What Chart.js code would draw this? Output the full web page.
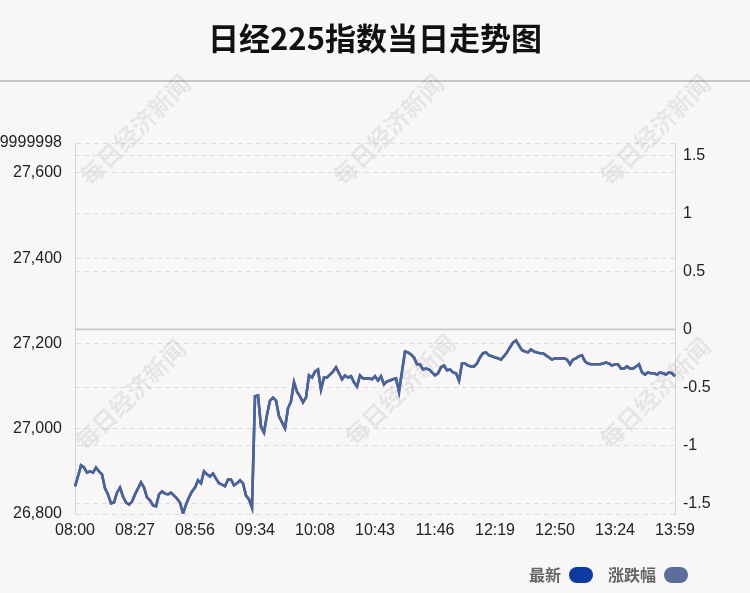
<!DOCTYPE html>
<html>
<head>
<meta charset="utf-8">
<script src="https://cdn.jsdelivr.net/npm/chart.js@4.4.1/dist/chart.umd.min.js"></script>
<style>
  html, body { margin: 0; padding: 0; background: #f9f6f8; }
  canvas { display: block; }
</style>
</head>
<body>
<canvas id="c" width="750" height="593"></canvas>
<script>
// ---- data ----
const chartTitle = '日经225指数当日走势图';
const seriesNames = ['最新', '涨跌幅'];
const prevClose = 27233;
const tickLabels = ['08:00','08:27','08:56','09:34','10:08','10:43','11:46','12:19','12:50','13:24','13:59'];
const prices = [
  26865,26888,26914,26909,26897,26900,26897,26909,26900,26893,
  26860,26846,26825,26827,26850,26862,26841,26827,26822,26829,
  26846,26860,26874,26862,26839,26832,26820,26818,26846,26853,
  26848,26846,26850,26843,26836,26827,26801,26822,26839,26853,
  26862,26879,26872,26900,26893,26888,26895,26883,26872,26869,
  26865,26881,26881,26867,26872,26879,26872,26843,26834,26815,
  27076,27078,27005,26991,27033,27066,27073,27066,27029,27015,
  27001,27048,27064,27109,27087,27076,27062,27073,27125,27120,
  27134,27139,27092,27120,27120,27127,27134,27144,27130,27116,
  27125,27120,27123,27109,27099,27125,27118,27118,27118,27116,
  27123,27113,27123,27104,27111,27113,27116,27118,27087,27134,
  27181,27179,27174,27167,27151,27151,27139,27141,27139,27132,
  27125,27130,27144,27148,27137,27139,27132,27130,27113,27153,
  27153,27148,27146,27146,27153,27167,27177,27179,27172,27170,
  27167,27165,27162,27170,27179,27191,27202,27207,27195,27184,
  27181,27179,27186,27181,27179,27177,27177,27172,27167,27162,
  27165,27165,27165,27165,27162,27151,27162,27165,27170,27172,
  27158,27153,27151,27151,27151,27151,27153,27155,27153,27148,
  27151,27151,27141,27141,27146,27141,27141,27146,27151,27132,
  27127,27132,27130,27130,27127,27132,27130,27127,27132,27130,
  27123
];
const leftMin = 26800;
const leftMax = 27670;
const leftTicks = [26800, 27000, 27200, 27400, 27600, 27670];
const leftTickLabels = ['26,800', '27,000', '27,200', '27,400', '27,600', '27,669.99999999998'];
const rightTicks = [-1.5, -1, -0.5, 0, 0.5, 1, 1.5];
const rightTickLabels = ['-1.5', '-1', '-0.5', '0', '0.5', '1', '1.5'];

// ---- derived ----
const perLabel = (prices.length - 1) / (tickLabels.length - 1);
const categories = prices.map((_, i) => (i % perLabel === 0 ? tickLabels[i / perLabel] : ''));
const changes = prices.map(v => (v - prevClose) / prevClose * 100);
const rightMin = (leftMin - prevClose) / prevClose * 100;
const rightMax = (leftMax - prevClose) / prevClose * 100;

// ---- styles ----
const BG = '#f9f6f8';
const LINE = '#4b6397';
const legendColors = ['#0c3a9f', '#5a6d9b'];
const GRID = '#e0dde0';
const tickFont = { family: '"Liberation Sans", Arial, sans-serif', size: 16 };
const LEGEND_RIGHT = 703;

const decor = {
  id: 'decor',
  beforeDraw(chart) {
    const ctx = chart.ctx;
    ctx.save();
    ctx.fillStyle = BG;
    ctx.fillRect(0, 0, chart.width, chart.height);
    ctx.strokeStyle = '#c6c6c6';
    ctx.lineWidth = 2;
    ctx.beginPath();
    ctx.moveTo(0, 81);
    ctx.lineTo(chart.width, 81);
    ctx.stroke();
    ctx.restore();
    if (chart.legend) {
      chart.legend.right = LEGEND_RIGHT;
      chart.legend.width = LEGEND_RIGHT - chart.legend.left;
    }
  },
  beforeDatasetsDraw(chart) {
    const ctx = chart.ctx;
    const ca = chart.chartArea;
    ctx.save();
    const spots = [[135,130],[388,130],[655,130],[130,395],[400,390],[655,393]];
    ctx.font = 'bold 24px "Noto Sans CJK SC", sans-serif';
    ctx.fillStyle = 'rgba(0,0,0,0.07)';
    ctx.textAlign = 'center';
    ctx.textBaseline = 'middle';
    spots.forEach(([x, y]) => {
      ctx.save();
      ctx.translate(x, y);
      ctx.rotate(-Math.PI / 4);
      ctx.fillText('每日经济新闻', 0, 0);
      ctx.restore();
    });
    const y0 = chart.scales.y1.getPixelForValue(0);
    ctx.strokeStyle = '#c8c8c8';
    ctx.lineWidth = 1.6;
    ctx.beginPath();
    ctx.moveTo(ca.left, y0);
    ctx.lineTo(ca.right, y0);
    ctx.stroke();
    ctx.restore();
  }
};

new Chart(document.getElementById('c'), {
  type: 'line',
  data: {
    labels: categories,
    datasets: [
      { label: seriesNames[0], data: prices, yAxisID: 'y', borderColor: LINE, backgroundColor: legendColors[0],
        borderWidth: 2.6, pointRadius: 0, tension: 0, order: 1 },
      { label: seriesNames[1], data: changes, yAxisID: 'y1', borderColor: LINE, backgroundColor: legendColors[1],
        borderWidth: 2.6, pointRadius: 0, tension: 0, order: 0 }
    ]
  },
  options: {
    responsive: false,
    animation: false,
    layout: { padding: 0 },
    plugins: {
      title: {
        display: true,
        text: chartTitle,
        color: '#111',
        font: { family: '"Noto Sans CJK SC", sans-serif', size: 31, weight: 'bold' },
        padding: { top: 20, bottom: 85.8 }
      },
      legend: {
        display: true,
        position: 'bottom',
        align: 'start',
        rtl: true,
        labels: {
          color: '#666',
          font: { family: '"Noto Sans CJK SC", sans-serif', size: 16, weight: 'bold' },
          boxWidth: 24,
          boxHeight: 16,
          padding: 15,
          useBorderRadius: true,
          borderRadius: 8,
          generateLabels(chart) {
            const items = Chart.defaults.plugins.legend.labels.generateLabels(chart);
            items.forEach(it => {
              it.fillStyle = legendColors[it.datasetIndex];
              it.strokeStyle = legendColors[it.datasetIndex];
              it.lineWidth = 0;
            });
            return items;
          }
        }
      },
      tooltip: { enabled: false }
    },
    scales: {
      x: {
        type: 'category',
        offset: false,
        grid: { display: false, drawTicks: false },
        border: { display: false },
        ticks: {
          autoSkip: false,
          maxRotation: 0,
          padding: 7,
          color: '#222',
          font: tickFont,
          callback: (v, i) => (i % perLabel === 0 ? tickLabels[i / perLabel] : null)
        },
        afterFit: s => { s.height = 38; }
      },
      y: {
        position: 'left',
        min: leftMin,
        max: leftMax,
        afterBuildTicks: s => { s.ticks = leftTicks.map(v => ({ value: v })); },
        ticks: {
          autoSkip: false,
          padding: 13,
          color: '#222',
          font: tickFont,
          callback: (v, i) => leftTickLabels[i]
        },
        grid: { color: GRID, lineWidth: 1, drawTicks: false },
        border: { display: true, color: '#d6d6d6', width: 1, dash: [5, 4] },
        afterFit: s => { s.width = 75; }
      },
      y1: {
        position: 'right',
        min: rightMin,
        max: rightMax,
        afterBuildTicks: s => { s.ticks = rightTicks.map(v => ({ value: v })); },
        ticks: {
          autoSkip: false,
          padding: 8,
          color: '#222',
          font: tickFont,
          callback: (v, i) => rightTickLabels[i]
        },
        grid: {
          color: c => (c.tick && c.tick.value === 0 ? 'rgba(0,0,0,0)' : GRID),
          lineWidth: 1,
          drawTicks: false
        },
        border: { display: true, color: '#d6d6d6', width: 1, dash: [5, 4] },
        afterFit: s => { s.width = 75; }
      }
    }
  },
  plugins: [decor]
});
</script>
</body>
</html>
